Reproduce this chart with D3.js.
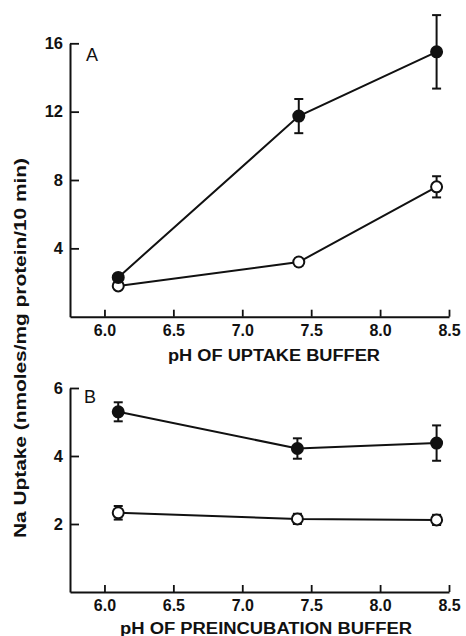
<!DOCTYPE html>
<html>
<head>
<meta charset="utf-8">
<script src="https://cdn.jsdelivr.net/npm/d3@7"></script>
<style>
  html, body { margin: 0; padding: 0; background: #fff; }
  svg text { font-family: "Liberation Sans", Arial, sans-serif; font-weight: bold; fill: #111; }
  svg text.panel-letter { font-weight: normal; }
</style>
</head>
<body>
<svg id="chart" width="466" height="636"></svg>
<script>
// pH values at which uptake was measured
const phA = [6.1, 7.41, 8.41];
const phB = [6.1, 7.4, 8.41];

// Panel A: Na uptake vs pH of uptake buffer
const filledA = [2.3, 11.74, 15.5];
const filledAErr = [0.15, 1.0, 2.15];
const openA = [1.8, 3.2, 7.6];
const openAErr = [0.15, 0.2, 0.62];

// Panel B: Na uptake vs pH of preincubation buffer
const filledB = [5.3, 4.22, 4.38];
const filledBErr = [0.28, 0.3, 0.52];
const openB = [2.33, 2.15, 2.12];
const openBErr = [0.2, 0.15, 0.15];

// Tick labels
const xTicks = [6.0, 6.5, 7.0, 7.5, 8.0, 8.5];
const yTicksA = [4, 8, 12, 16];
const yTicksB = [2, 4, 6];

const svg = d3.select("#chart");
const ink = "#111";

const x = d3.scaleLinear().domain([5.75, 8.5]).range([70, 449]);

function panel(opts) {
  const y = d3.scaleLinear().domain([0, opts.yMax]).range([opts.bottom, opts.top]);
  const g = svg.append("g");

  // axes: left and bottom lines with inward ticks
  const xAxis = d3.axisBottom(x).tickValues(xTicks).tickSize(-7).tickSizeOuter(0)
    .tickFormat(d3.format(".1f")).tickPadding(8);
  const gx = g.append("g").attr("transform", `translate(0,${opts.bottom})`).call(xAxis);
  gx.select(".domain").attr("stroke", ink).attr("stroke-width", 2);
  gx.selectAll(".tick line").attr("stroke", ink).attr("stroke-width", 1.8);
  gx.selectAll(".tick text").attr("font-size", 16).attr("fill", ink);

  const yAxis = d3.axisLeft(y).tickValues(opts.yTicks).tickSize(-9).tickSizeOuter(0)
    .tickFormat(d3.format("d")).tickPadding(7);
  const gy = g.append("g").attr("transform", `translate(70,0)`).call(yAxis);
  gy.select(".domain").attr("stroke", ink).attr("stroke-width", 2);
  gy.selectAll(".tick line").attr("stroke", ink).attr("stroke-width", 1.8);
  gy.selectAll(".tick text").attr("font-size", 16.5).attr("fill", ink);

  // panel letter
  g.append("text").attr("class", "panel-letter")
    .attr("x", opts.letterX).attr("y", opts.letterY)
    .attr("font-size", 18).text(opts.letter);

  // axis title
  g.append("text").attr("x", opts.titleX).attr("y", opts.titleY)
    .attr("text-anchor", "middle").attr("font-size", 16)
    .attr("textLength", opts.titleW).attr("lengthAdjust", "spacingAndGlyphs")
    .text(opts.title);

  const line = d3.line().x(d => x(d[0])).y(d => y(d[1]));

  opts.series.forEach(s => {
    const pts = s.ph.map((p, i) => [p, s.v[i], s.e[i]]);
    g.append("path").datum(pts).attr("d", line)
      .attr("fill", "none").attr("stroke", ink).attr("stroke-width", 2);

    // error bars
    const eb = g.append("g");
    pts.forEach(d => {
      const cx = x(d[0]);
      const y1 = y(d[1] + d[2]), y2 = y(d[1] - d[2]);
      eb.append("line").attr("x1", cx).attr("x2", cx).attr("y1", y1).attr("y2", y2)
        .attr("stroke", ink).attr("stroke-width", 2);
      [y1, y2].forEach(yy => eb.append("line")
        .attr("x1", cx - 4.5).attr("x2", cx + 4.5).attr("y1", yy).attr("y2", yy)
        .attr("stroke", ink).attr("stroke-width", 2));
    });

    g.selectAll(null).data(pts).join("circle")
      .attr("cx", d => x(d[0])).attr("cy", d => y(d[1])).attr("r", 5.5)
      .attr("fill", s.filled ? ink : "#fff").attr("stroke", ink).attr("stroke-width", 2);
  });
}

panel({
  top: 43.3, bottom: 316.7, yMax: 16, yTicks: yTicksA,
  letter: "A", letterX: 86, letterY: 61,
  title: "pH OF UPTAKE BUFFER", titleX: 274, titleY: 361, titleW: 212,
  series: [
    { ph: phA, v: openA, e: openAErr, filled: false },
    { ph: phA, v: filledA, e: filledAErr, filled: true }
  ]
});

panel({
  top: 388, bottom: 592, yMax: 6, yTicks: yTicksB,
  letter: "B", letterX: 84, letterY: 403,
  title: "pH OF PREINCUBATION BUFFER", titleX: 266, titleY: 634, titleW: 292,
  series: [
    { ph: phB, v: openB, e: openBErr, filled: false },
    { ph: phB, v: filledB, e: filledBErr, filled: true }
  ]
});

// shared y-axis title
svg.append("text")
  .attr("transform", "translate(26,348) rotate(-90)")
  .attr("text-anchor", "middle").attr("font-size", 17)
  .attr("textLength", 380).attr("lengthAdjust", "spacingAndGlyphs")
  .text("Na Uptake (nmoles/mg protein/10 min)");
</script>
</body>
</html>
